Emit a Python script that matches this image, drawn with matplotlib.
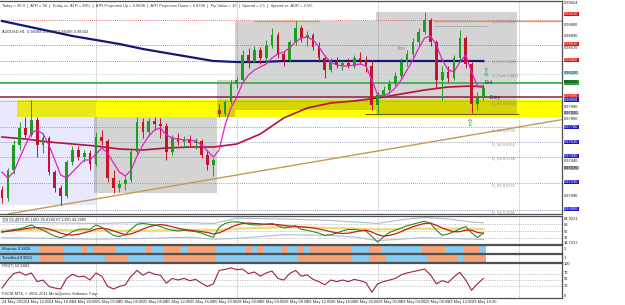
import matplotlib
matplotlib.use("Agg")
import matplotlib.pyplot as plt
import matplotlib.transforms as mtransforms
from matplotlib.patches import Rectangle
import numpy as np

W, H = 625, 305

# ---- AUDUSD H1, 24 May 2012 08:00 .. 29 May 18:00 (one entry per bar) ----
OPEN = [0.9715, 0.9707, 0.9735, 0.9760, 0.9777, 0.9770, 0.9785, 0.9760, 0.9767, 0.9733, 0.9717, 0.9709, 0.9743, 0.9755, 0.9748, 0.9752,
        0.9741, 0.9768, 0.9764, 0.9727, 0.9717, 0.9721, 0.9725, 0.9753, 0.9783, 0.9773, 0.9784, 0.9781, 0.9779, 0.9753, 0.9767, 0.9763, 0.9766, 0.9762, 0.9764, 0.9750, 0.9740,
        0.9795, 0.9791, 0.9803,
        0.9821, 0.9825, 0.9850, 0.9843, 0.9855, 0.9847, 0.9860, 0.9870, 0.9851, 0.9845, 0.9863, 0.9877, 0.9867, 0.9870, 0.9858, 0.9847, 0.9835, 0.9843, 0.9840, 0.9842, 0.9839, 0.9847, 0.9845, 0.9839,
        0.9800, 0.9810, 0.9815, 0.9821, 0.9829, 0.9843, 0.9851, 0.9863, 0.9873, 0.9885, 0.9863, 0.9825, 0.9833, 0.9827, 0.9847, 0.9867, 0.9841, 0.9801, 0.9807]
HIGH = [0.9719, 0.9737, 0.9765, 0.9783, 0.9788, 0.9805, 0.9788, 0.9772, 0.9769, 0.9735, 0.9720, 0.9745, 0.9759, 0.9759, 0.9755, 0.9755,
        0.9773, 0.9775, 0.9766, 0.9735, 0.9725, 0.9729, 0.9757, 0.9788, 0.9787, 0.9787, 0.9788, 0.9787, 0.9782, 0.9770, 0.9772, 0.9769, 0.9770, 0.9767, 0.9766, 0.9755, 0.9747,
        0.9801, 0.9805, 0.9825,
        0.9828, 0.9855, 0.9857, 0.9859, 0.9858, 0.9865, 0.9877, 0.9873, 0.9854, 0.9865, 0.9884, 0.9880, 0.9874, 0.9872, 0.9863, 0.9850, 0.9847, 0.9848, 0.9845, 0.9847, 0.9850, 0.9853, 0.9849, 0.9845,
        0.9813, 0.9819, 0.9825, 0.9833, 0.9847, 0.9855, 0.9867, 0.9877, 0.9893, 0.9887, 0.9865, 0.9839, 0.9839, 0.9850, 0.9875, 0.9869, 0.9843, 0.9813, 0.9821]
LOW = [0.9702, 0.9704, 0.9731, 0.9755, 0.9767, 0.9768, 0.9748, 0.9752, 0.9730, 0.9713, 0.9700, 0.9707, 0.9740, 0.9745, 0.9743, 0.9735,
       0.9739, 0.9760, 0.9723, 0.9712, 0.9713, 0.9715, 0.9723, 0.9750, 0.9767, 0.9769, 0.9775, 0.9767, 0.9745, 0.9750, 0.9760, 0.9758, 0.9759, 0.9756, 0.9747, 0.9735, 0.9729,
       0.9788, 0.9789, 0.9801,
       0.9817, 0.9823, 0.9837, 0.9843, 0.9841, 0.9843, 0.9857, 0.9847, 0.9839, 0.9843, 0.9860, 0.9863, 0.9859, 0.9855, 0.9843, 0.9827, 0.9833, 0.9837, 0.9835, 0.9837, 0.9837, 0.9841, 0.9833, 0.9795,
       0.9790, 0.9807, 0.9811, 0.9819, 0.9827, 0.9839, 0.9848, 0.9860, 0.9871, 0.9859, 0.9817, 0.9805, 0.9823, 0.9825, 0.9845, 0.9837, 0.9792, 0.9795, 0.9805]
CLOSE = [0.9707, 0.9735, 0.9760, 0.9777, 0.9770, 0.9785, 0.9760, 0.9767, 0.9733, 0.9717, 0.9709, 0.9743, 0.9755, 0.9748, 0.9752, 0.9741,
         0.9768, 0.9764, 0.9727, 0.9717, 0.9721, 0.9725, 0.9753, 0.9783, 0.9773, 0.9784, 0.9781, 0.9779, 0.9753, 0.9767, 0.9763, 0.9766, 0.9762, 0.9764, 0.9750, 0.9740, 0.9745,
         0.9791, 0.9803, 0.9821,
         0.9825, 0.9850, 0.9843, 0.9855, 0.9847, 0.9860, 0.9870, 0.9851, 0.9845, 0.9863, 0.9877, 0.9867, 0.9870, 0.9858, 0.9847, 0.9835, 0.9843, 0.9840, 0.9842, 0.9839, 0.9847, 0.9845, 0.9839, 0.9800,
         0.9810, 0.9815, 0.9821, 0.9829, 0.9843, 0.9851, 0.9863, 0.9873, 0.9885, 0.9863, 0.9825, 0.9833, 0.9827, 0.9847, 0.9867, 0.9841, 0.9801, 0.9807, 0.9817]

# fast MA (magenta), read per bar
MA_FAST = [0.9733, 0.9727, 0.9733, 0.9747, 0.9760, 0.9772, 0.9775, 0.9771, 0.9760, 0.9745, 0.9730, 0.9727, 0.9733, 0.9739, 0.9745, 0.9745,
           0.9751, 0.9757, 0.9752, 0.9742, 0.9733, 0.9729, 0.9735, 0.9749, 0.9760, 0.9769, 0.9775, 0.9777, 0.9770, 0.9767, 0.9766, 0.9765, 0.9765, 0.9764, 0.9760, 0.9754, 0.9748,
           0.9755, 0.9780, 0.9797,
           0.9808, 0.9822, 0.9830, 0.9835, 0.9838, 0.9841, 0.9847, 0.9851, 0.9853, 0.9857, 0.9863, 0.9867, 0.9868, 0.9865, 0.9858, 0.9849, 0.9843, 0.9840, 0.9839, 0.9839, 0.9840, 0.9841, 0.9839, 0.9825,
           0.9810, 0.9809, 0.9812, 0.9817, 0.9825, 0.9835, 0.9845, 0.9857, 0.9867, 0.9869, 0.9860, 0.9845, 0.9835, 0.9833, 0.9843, 0.9850, 0.9833, 0.9819, 0.9819]

# slow MAs, read at every 4th bar
SLOW_BARS = [0, 4, 8, 12, 16, 20, 24, 28, 32, 36, 40, 44, 48, 52, 56, 60, 64, 68, 72, 76, 80, 82]
MA_NAVY = [0.9884, 0.9879, 0.9874, 0.9869, 0.9865, 0.9861, 0.9856, 0.9852, 0.9848, 0.9844, 0.9843,
           0.9843, 0.9844, 0.9844, 0.9844, 0.9844, 0.9844, 0.9844, 0.9844, 0.9844, 0.9844, 0.9844]
MA_RED = [0.9768, 0.9766, 0.9763, 0.9761, 0.9759, 0.9756, 0.9755, 0.9757, 0.9758, 0.9758, 0.9761,
          0.9771, 0.9787, 0.9797, 0.9802, 0.9804, 0.9807, 0.9811, 0.9815, 0.9818, 0.9819, 0.9818]

# trading sessions (first bar of each day, in bar index)
DAY_BREAKS = [16, 40, 64, 88]
BOX_START = [16, 37, 40, 64]
BOX_END = [37, 40, 64, 88]

TIME_LABELS = ["24 May 2012", "24 May 12:00", "24 May 16:00", "24 May 20:00", "25 May 00:00",
               "25 May 04:00", "25 May 08:00", "25 May 12:00", "25 May 16:00", "25 May 20:00",
               "28 May 00:00", "28 May 04:00", "28 May 08:00", "28 May 12:00", "28 May 16:00",
               "28 May 20:00", "29 May 00:00", "29 May 04:00", "29 May 08:00", "29 May 12:00",
               "29 May 16:00"]

# TDI
TDI_GREEN = [46, 50, 54, 56, 60, 66, 58, 52, 44, 36, 32, 38, 48, 54, 55, 54,
             66, 60, 48, 38, 35, 40, 55, 68, 70, 68, 66, 62, 56, 52, 50, 52, 50, 48, 44, 38, 33,
             60, 70, 74,
             74, 72, 68, 66, 66, 68, 70, 64, 58, 60, 64, 54, 52, 48, 44, 38, 40, 44, 50, 54, 54, 52, 50, 35,
             20, 34, 46, 52, 58, 64, 68, 72, 76, 70, 52, 38, 42, 48, 56, 62, 45, 32, 44]
TDI_RED = [48, 49, 51, 53, 56, 58, 59, 58, 55, 50, 44, 40, 39, 41, 45, 49,
           55, 57, 55, 50, 45, 40, 42, 48, 55, 61, 65, 67, 65, 61, 57, 54, 52, 50, 48, 46, 42,
           45, 52, 60,
           66, 70, 71, 70, 69, 68, 68, 67, 65, 63, 62, 61, 60, 58, 55, 52, 48, 45, 43, 44, 47, 50, 52, 47,
           40, 36, 38, 42, 48, 55, 61, 66, 70, 71, 65, 58, 52, 48, 48, 52, 52, 46, 44]
TDI_BARS = [0, 8, 16, 24, 32, 36, 40, 48, 56, 60, 64, 68, 72, 76, 80, 82]
TDI_MID = [52, 53, 50, 50, 53, 52, 56, 60, 58, 56, 54, 55, 56, 56, 56, 55]
TDI_UP = [74, 72, 70, 73, 72, 70, 84, 82, 78, 74, 70, 80, 86, 82, 74, 72]
TDI_LO = [32, 30, 28, 30, 33, 28, 30, 40, 38, 34, 24, 28, 32, 30, 28, 27]

MAJESTIC = [0, 0, 0, 0, 0, 0, 0, 1, 1, 1, 1, 0, 0, 0, 1, 0,
            1, 1, 1, 1, 0, 0, 0, 0, 0, 1, 0, 0, 1, 1, 1, 0, 1, 1, 1, 1, 1,
            0, 0, 0,
            0, 0, 1, 0, 1, 0, 0, 0, 1, 0, 0, 1, 0, 1, 1, 1, 1, 1, 1, 1, 0, 0, 0, 1,
            1, 0, 0, 0, 0, 0, 0, 0, 1, 1, 1, 1, 0, 0, 0, 1, 1, 1, 0]
TRENDLORD = [0, 0, 0, 0, 0, 0, 0, 1, 1, 1, 1, 0, 0, 0, 0, 0,
             0, 0, 1, 1, 1, 1, 0, 0, 0, 0, 0, 0, 1, 1, 1, 1, 1, 1, 1, 1, 1,
             0, 0, 0,
             0, 0, 0, 0, 0, 0, 0, 0, 0, 0, 0, 1, 1, 1, 1, 1, 1, 1, 1, 1, 0, 0, 0, 1,
             1, 1, 0, 0, 0, 0, 0, 0, 0, 1, 1, 1, 1, 1, 0, 1, 1, 1, 1]

RSI7 = [25, 50, 70, 75, 65, 72, 45, 50, 30, 25, 22, 55, 68, 60, 62, 50,
        72, 62, 30, 22, 30, 35, 62, 80, 65, 75, 68, 65, 40, 55, 50, 55, 48, 52, 40, 30, 38,
        80, 83, 88,
        82, 84, 70, 75, 62, 72, 78, 55, 50, 70, 80, 62, 66, 52, 45, 35, 50, 45, 50, 45, 52, 48, 42, 12,
        38, 45, 50, 55, 66, 72, 76, 80, 84, 66, 38, 48, 42, 60, 74, 50, 18, 38, 55]

# levels on the price chart
YELLOW_ZONE = (0.9788, 0.9805)
GREEN_LEVEL, MAROON_LEVEL = 0.98225, 0.9808
RED_DOTS = [0.9885, 0.9860, 0.9844]
PIVOT = 0.9831
BLUE_DOTS = [0.9804, 0.9778, 0.9763, 0.9748, 0.9722, 0.9695]
TREND_A, TREND_B = (0, 0.9690), (82, 0.9772)
PIVOT_LABELS = [("O_R2 0.9884", 0.9884), ("O_R1 0.9844", 0.9844), ("O_Pivot 0.9831", 0.9830),
                ("O_S1 0.9804", 0.9802), ("O_S2 0.9778", 0.9775), ("O_S3 0.9763", 0.9761),
                ("O_S4 0.9748", 0.9747), ("O_S5 0.9722", 0.9720), ("O_S6 0.9695", 0.9693)]

# price-axis labels: (price, face, text colour)
AXIS_TAGS = [(0.9891, "#E01010", "white"), (0.9861, "#E01010", "white"), (0.9845, "#E01010", "white"),
             (0.9832, "#B8E6F0", "black"), (0.98225, "#2E9E3E", "black"), (0.9809, "#E01010", "white"),
             (0.9805, "#1818C8", "white"), (0.9792, "#C8C8C8", "black"), (0.9778, "#1818C8", "white"),
             (0.9763, "#1818C8", "white"), (0.9749, "#1818C8", "white"), (0.9737, "#B0B0B0", "black"),
             (0.9723, "#1818C8", "white"), (0.9696, "#1818C8", "white")]
AXIS_TICKS = [0.99024, 0.98800, 0.98690, 0.98570, 0.97980, 0.97860, 0.97440, 0.97090]

UP, DOWN = "#1E9E1E", "#C4142C"
ORANGE, SKY = "#F6A274", "#86CBF2"
GRIDC = "#7A80A8"

n = len(CLOSE)
x = np.arange(n)
XLIM = (-2 / 5.87, 560 / 5.87)

plt.rcParams["font.family"] = ["Liberation Sans", "DejaVu Sans"]
fig = plt.figure(figsize=(W / 100, H / 100), dpi=100)


def panel(y0, y1):
    ax = fig.add_axes([0, 1 - y1 / H, 562 / W, (y1 - y0) / H])
    ax.set_xlim(XLIM)
    ax.set_xticks([])
    ax.set_yticks([])
    for s in ax.spines.values():
        s.set_color("#505050")
        s.set_linewidth(0.9)
    ax.spines["left"].set_visible(False)
    for b in DAY_BREAKS:
        ax.axvline(b, color="#8c8c8c", lw=0.5, ls=(0, (1, 1.5)), zorder=0.6)
    return ax


def ftext(px, py, s, **kw):
    kw.setdefault("fontsize", 2.9)
    kw.setdefault("va", "center")
    fig.text(px / W, 1 - py / H, s, **kw)


# ---------------- main price panel ----------------
ax = panel(1, 214)
ax.set_ylim(0.9691, 0.9904)
O, Hh, L, C = map(np.array, (OPEN, HIGH, LOW, CLOSE))

ax.add_patch(Rectangle((2.55, YELLOW_ZONE[0]), XLIM[1] - 2.55, YELLOW_ZONE[1] - YELLOW_ZONE[0],
                       fc="#FFFF00", ec="none", zorder=1))
# previous day in lavender, session ranges in grey
ax.add_patch(Rectangle((XLIM[0], L[:16].min()), 16 - XLIM[0], Hh[:16].max() - L[:16].min(),
                       fc=(0.2, 0.2, 1.0), alpha=0.11, ec="none", zorder=1.2))
for s0, s1 in zip(BOX_START, BOX_END):
    lo, hi = L[s0:min(s1, n)].min(), Hh[s0:min(s1, n)].max()
    ax.add_patch(Rectangle((s0 - 0.3, lo), s1 - s0, hi - lo, fc="black", alpha=0.17, ec="none", zorder=1.2))

for lv in RED_DOTS:
    ax.axhline(lv, color="#D04848", lw=0.6, ls=(0, (1, 1.5)), zorder=2)
ax.axhline(PIVOT, color="#A8C8D8", lw=0.6, ls=(0, (1, 1.5)), zorder=2)
for lv in BLUE_DOTS:
    ax.axhline(lv, color=GRIDC, lw=0.6, ls=(0, (1, 1.5)), zorder=2)
ax.axhline(GREEN_LEVEL, color="#3FAE4E", lw=1.3, zorder=3)
ax.axhline(MAROON_LEVEL, color="#8E1E40", lw=1.1, zorder=3)
ax.hlines(0.9884, 43, 54.2, color="#C9A46A", lw=1.0, zorder=3)
ax.hlines(0.98845, 73.4, XLIM[1], color="#C9A46A", lw=1.0, zorder=3)
ax.hlines(0.9879, 73.4, 82.6, color="#B0B0B0", lw=0.7, zorder=3)
ax.hlines(0.97915, 61.8, 88, color="#6E6020", lw=0.8, zorder=3)
ax.axline(TREND_A, TREND_B, color="#C49A52", lw=1.0, zorder=3)

ax.plot(SLOW_BARS, MA_NAVY, color="#15157A", lw=1.6, zorder=4)
ax.plot(SLOW_BARS, MA_RED, color="#B4123C", lw=1.2, zorder=4)

col = np.where(C >= O, UP, DOWN)
ax.vlines(x, L, Hh, colors=col, lw=0.7, zorder=5)
ax.bar(x, np.maximum(np.abs(C - O), 0.00005), bottom=np.minimum(O, C), width=0.46,
       color=col, lw=0, zorder=6)
ax.plot(x, MA_FAST, color="#E020C8", lw=0.9, zorder=7)

for s, lv in PIVOT_LABELS:
    ax.text(83.5, lv, s, fontsize=2.8, color="#8a8a8a", va="center", zorder=8)
ax.text(67.2, 0.9857, "Test", fontsize=3.4, color="#8a8a8a", va="center", zorder=8)
ax.text(82.3, 0.9822, "Exit", fontsize=3.4, color="#303030", va="center", zorder=8)
ax.text(83.1, 0.9808, "Entry", fontsize=3.4, color="#303030", va="center", zorder=8)
ax.text(79.7, 0.9782, "\u21e7", fontsize=7, color="#2FA52F", ha="center", va="center",
        family="DejaVu Sans", zorder=8)
ax.text(82.3, 0.98315, "\u21e9", fontsize=7, color="#2FA52F", ha="center", va="center",
        family="DejaVu Sans", zorder=8)

ftext(2, 6, "Today = 96.9  |  ATR = 98  |  Today vs. ATR = 98%  |  ATR Projection Up = 0.9898  |  "
      "ATR Projection Down = 0.9798  |  Pip Value = 10  |  Spread = 2.5  |  Spread vs. ADR = 2.5%",
      color="#404040")
ftext(2, 32, "AUDUSD,H1  0.98388 0.98300 0.98388 0.98342", color="#303030")

for p, fc, tc in AXIS_TAGS:
    py = 1 + (0.9904 - p) / (0.9904 - 0.9691) * 213
    ftext(564, py, f"{p:.5f}", color=tc, bbox=dict(boxstyle="square,pad=0.12", fc=fc, ec="none"))
for p in AXIS_TICKS:
    py = 1 + (0.9904 - p) / (0.9904 - 0.9691) * 213
    ftext(564, py, f"{p:.5f}", color="#202020")

# ---------------- TDI ----------------
at = panel(216, 244)
at.set_ylim(15, 90)
for lv in (68, 50, 32):
    at.axhline(lv, color="#9a9a9a", lw=0.5, ls=(0, (1, 1.5)))
at.plot(TDI_BARS, TDI_UP, color="#A8BDCB", lw=0.8)
at.plot(TDI_BARS, TDI_LO, color="#A8BDCB", lw=0.8)
at.plot(TDI_BARS, TDI_MID, color="#EEDC70", lw=1.6)
at.plot(x, TDI_GREEN, color="#2E8B22", lw=0.8)
at.plot(x, TDI_RED, color="#C0201A", lw=0.9)
ftext(2, 220, "TDI 55.4976 45.1662 50.8348 67.1390 43.2605", color="#303030")
ftext(564, 219, "84.9231", color="#202020")
for v, py in ((68, 225), (50, 232), (32, 238)):
    ftext(564, py, str(v), color="#202020")
ftext(564, 243, "14.7217", color="#202020")

# ---------------- Majestic / Trendlord bars ----------------
for (y0, y1), codes, name in (((245, 253), MAJESTIC, "Majestic 0.9826"),
                              ((254, 262), TRENDLORD, "Trendlord 0.9821")):
    ab = panel(y0, y1)
    ab.set_ylim(0, 1)
    ab.bar(x, 1, width=1.0, bottom=0, color=[ORANGE if c else SKY for c in codes], lw=0, zorder=2)
    ftext(2, (y0 + y1) / 2, name, color="#202020")
    ftext(564, (y0 + y1) / 2, "1", color="#202020")

# ---------------- RSI(7) ----------------
ar = panel(263, 298)
ar.set_ylim(-6, 103)
for lv in (70, 50, 30):
    ar.axhline(lv, color="#9a9a9a", lw=0.5, ls=(0, (1, 1.5)))
ar.plot(x, RSI7, color="#A0203A", lw=0.8)
ftext(2, 266, "RSI(7) 52.9483", color="#303030")
ftext(2, 294, "FXCM MT4, \u00a9 2001-2011 MetaQuotes Software Corp.", color="#303030")
for v, py in ((100, 264), (70, 273), (50, 279), (30, 286), (0, 296)):
    ftext(564, py, str(v), color="#202020")

trans = mtransforms.blended_transform_factory(ar.transData, fig.transFigure)
for k, lab in enumerate(TIME_LABELS):
    ar.text(4 * k, 1 - 301.5 / H, lab, transform=trans, fontsize=2.9, color="#303030",
            va="center", ha="left", clip_on=False)

fig.savefig("out.png", dpi=100, facecolor="white")
